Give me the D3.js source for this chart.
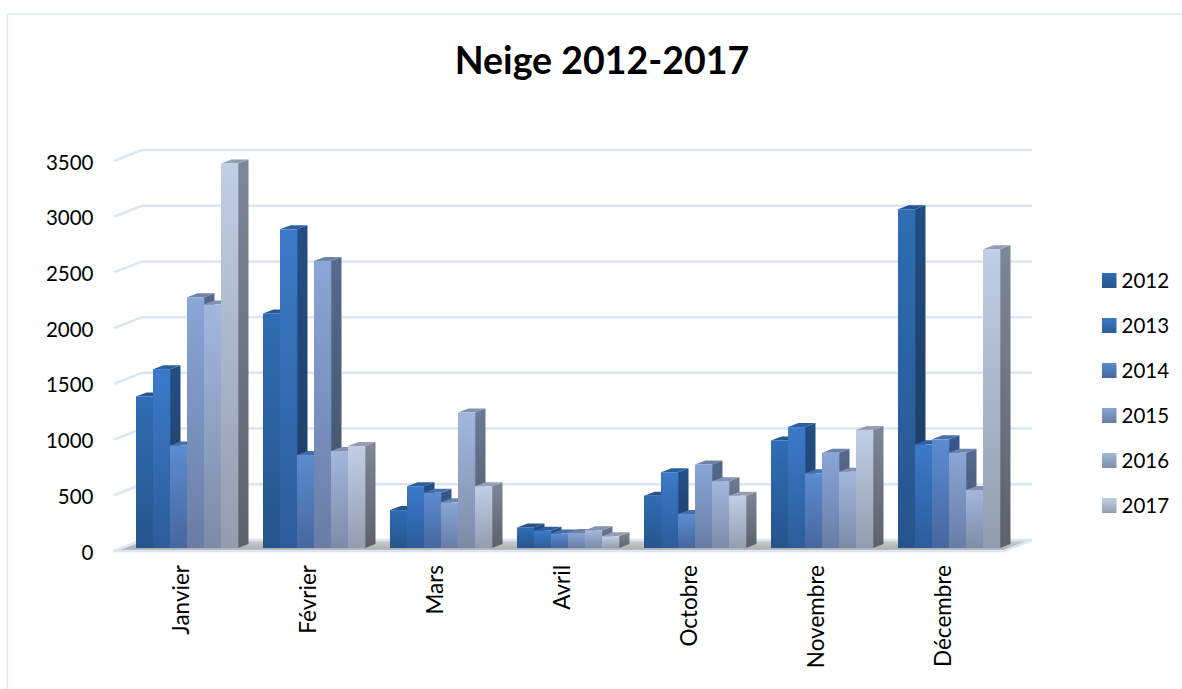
<!DOCTYPE html>
<html>
<head>
<meta charset="utf-8">
<script src="https://cdn.jsdelivr.net/npm/d3@7"></script>
<style>
  html, body { margin: 0; padding: 0; background: #fff; }
  svg { display: block; font-family: Lato, sans-serif; }
</style>
</head>
<body>
<svg id="chart" width="1182" height="689"></svg>
<script>
const mois = ['Janvier', 'Février', 'Mars', 'Avril', 'Octobre', 'Novembre', 'Décembre'];
const annees = ['2012', '2013', '2014', '2015', '2016', '2017'];
const ticks = [0, 500, 1000, 1500, 2000, 2500, 3000, 3500];

const v2012 = [1360, 2105, 340, 185, 470, 965, 3040];
const v2013 = [1605, 2860, 555, 155, 680, 1085, 930];
const v2014 = [920, 835, 495, 130, 305, 670, 975];
const v2015 = [2250, 2575, 410, 135, 750, 855, 855];
const v2016 = [2185, 870, 1215, 160, 600, 685, 520];
const v2017 = [3450, 915, 555, 105, 470, 1060, 2680];
const series = [v2012, v2013, v2014, v2015, v2016, v2017];

// front face top, front face bottom, side top, side bottom, top face
const couleurs = [
    ['#2f6db4', '#27548c', '#214d80', '#1a3a60', '#27568f'],
    ['#3c7ac9', '#2c5c9a', '#244f84', '#1d3c63', '#2c5f9e'],
    ['#5c8bd1', '#47679e', '#38598f', '#2b4468', '#476fa8'],
    ['#8aa6d6', '#677da6', '#566a8e', '#434f66', '#6e83aa'],
    ['#a3b7dd', '#7d8ba8', '#6b7a97', '#4f5867', '#8292b0'],
    ['#c1cee5', '#939daf', '#7e8798', '#5c616b', '#959fb3']
];

const svg = d3.select('#chart');
const defs = svg.append('defs');

// depth of the 3D box and of one bar
const wallDx = 28, wallDy = -11;
const barDx = 10.5, barDy = -4;
const baseDy = -3;   // bars stand a little behind the front edge

const y = d3.scaleLinear().domain([0, 3500]).range([551, 161]);
const x0 = d3.scaleBand().domain(mois).range([123.5, 1012.5])
    .paddingInner(25 / 127).paddingOuter(12.5 / 127);
const x1 = d3.scaleBand().domain(annees).range([0, x0.bandwidth()]);

// cadre
svg.append('path')
    .attr('d', 'M1182,14 H7.5 V689')
    .attr('fill', 'none').attr('stroke', '#dce6f4').attr('stroke-width', 1.5);

svg.append('text')
    .attr('x', 602).attr('y', 74)
    .attr('text-anchor', 'middle')
    .attr('font-size', 37.5).attr('font-weight', 700)
    .attr('fill', '#000')
    .text('Neige 2012-2017');

// gradients
couleurs.forEach((c, i) => {
    [['front', c[0], c[1]], ['side', c[2], c[3]]].forEach(([nom, haut, bas]) => {
        const g = defs.append('linearGradient')
            .attr('id', `${nom}${i}`)
            .attr('x1', 0).attr('y1', 0).attr('x2', 0).attr('y2', 1);
        g.append('stop').attr('offset', '0%').attr('stop-color', haut);
        g.append('stop').attr('offset', '100%').attr('stop-color', bas);
    });
});
const floorGrad = defs.append('linearGradient')
    .attr('id', 'floor').attr('x1', 0).attr('y1', 0).attr('x2', 0).attr('y2', 1);
floorGrad.append('stop').attr('offset', '0%').attr('stop-color', '#cfcfcf');
floorGrad.append('stop').attr('offset', '100%').attr('stop-color', '#a9a9a9');

const xLeft = 114, xRight = 1004;

// sol
svg.append('path')
    .attr('d', `M${xLeft},${y(0)} L${xLeft + wallDx},${y(0) + wallDy} H${xRight + wallDx} L${xRight},${y(0)} Z`)
    .attr('fill', 'url(#floor)');

// grille : mur + arete gauche
const grille = svg.append('g').attr('fill', 'none').attr('stroke', '#dbe6f5').attr('stroke-width', 2.5);
ticks.forEach(t => {
    grille.append('path')
        .attr('d', `M${xLeft},${y(t)} L${xLeft + wallDx},${y(t) + wallDy} H${xRight + wallDx}`);
});
grille.append('path')
    .attr('d', `M${xLeft},${y(0)} H${xRight} L${xRight + wallDx},${y(0) + wallDy}`);

// barres, de gauche a droite : chaque barre recouvre le flanc de la precedente
mois.forEach((m, j) => {
    annees.forEach((a, i) => {
        const v = series[i][j];
        const bx = x0(m) + x1(a);
        const w = x1.bandwidth();
        const yTop = y(v) + baseDy;
        const yBase = y(0) + baseDy;
        const g = svg.append('g').attr('class', 'barre');
        g.append('path')
            .attr('d', `M${bx + w},${yTop} l${barDx},${barDy} V${yBase + barDy} L${bx + w},${yBase} Z`)
            .attr('fill', `url(#side${i})`);
        g.append('path')
            .attr('d', `M${bx},${yTop} l${barDx},${barDy} h${w} l${-barDx},${-barDy} Z`)
            .attr('fill', couleurs[i][4]);
        g.append('rect')
            .attr('x', bx).attr('y', yTop)
            .attr('width', w + 0.3).attr('height', yBase - yTop)
            .attr('fill', `url(#front${i})`);
    });
});

// axes
const axeY = svg.append('g')
    .attr('transform', 'translate(93.5,1.5)')
    .call(d3.axisLeft(y).tickValues(ticks).tickSize(0).tickPadding(0).tickFormat(d3.format('d')));
axeY.select('.domain').remove();
axeY.selectAll('text').attr('font-size', 20.5).attr('font-family', 'Lato, sans-serif').attr('fill', '#000');

const axeX = svg.append('g')
    .attr('transform', 'translate(0,565)')
    .call(d3.axisBottom(x0).tickSize(0));
axeX.select('.domain').remove();
axeX.selectAll('text')
    .attr('font-size', 22.5).attr('font-family', 'Lato, sans-serif').attr('fill', '#000')
    .attr('text-anchor', 'end')
    .attr('dy', null).attr('y', 0)
    .attr('transform', 'rotate(-90)')
    .attr('x', 0).attr('dominant-baseline', 'central');
axeX.selectAll('.tick').attr('transform', d => `translate(${x0(d) + x0.bandwidth() / 2 - 7},0)`);

// legende
const legY = d3.scalePoint().domain(annees).range([280, 505]);
const leg = svg.append('g');
annees.forEach((a, i) => {
    const gr = defs.append('linearGradient')
        .attr('id', `leg${i}`).attr('x1', 0).attr('y1', 0).attr('x2', 0).attr('y2', 1);
    gr.append('stop').attr('offset', '0%').attr('stop-color', couleurs[i][0]);
    gr.append('stop').attr('offset', '100%').attr('stop-color', couleurs[i][1]);
    leg.append('rect')
        .attr('x', 1102).attr('y', legY(a) - 7)
        .attr('width', 14.5).attr('height', 15)
        .attr('fill', `url(#leg${i})`);
    leg.append('text')
        .attr('x', 1121.5).attr('y', legY(a))
        .attr('dominant-baseline', 'central')
        .attr('font-size', 20.5).attr('fill', '#000')
        .text(a);
});
</script>
</body>
</html>
